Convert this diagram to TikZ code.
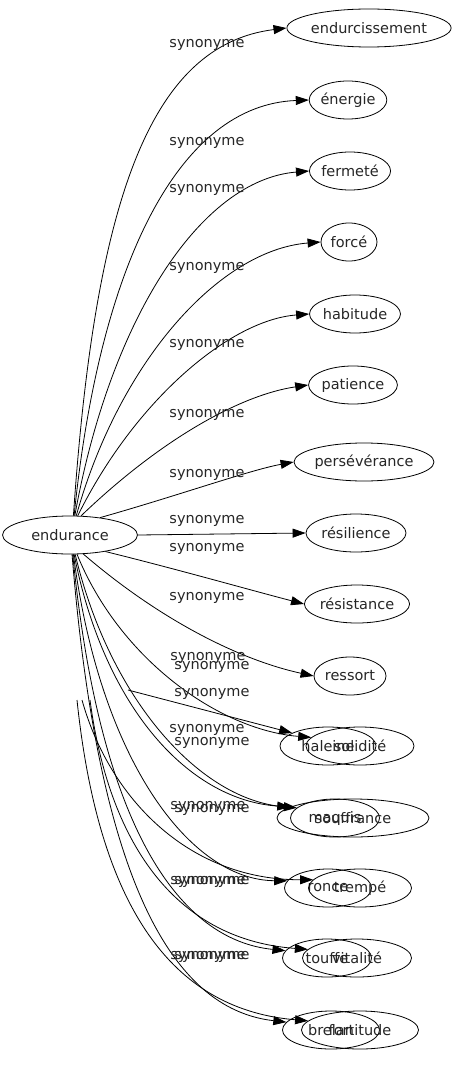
\documentclass[tikz,border=0pt]{standalone}
\usepackage{fontspec}
\setmainfont{DejaVu Sans}
\usetikzlibrary{arrows.meta,shapes.geometric}
\begin{document}
\begin{tikzpicture}[x=1pt,y=-1pt,line width=0.8pt,
 n/.style={draw,ellipse,inner sep=0pt,minimum height=38pt,font=\fontsize{14.5}{17}\selectfont,text=black!85},
 e/.style={-{Triangle[length=13pt,width=9pt]}},
 lab/.style={font=\fontsize{14.5}{17}\selectfont,text=black!85,inner sep=0pt}]
\useasboundingbox (0,0) rectangle (460,1067);
\node[n,minimum width=135pt] (endurance) at (70,535) {endurance};
\node[n,minimum width=138pt] (endurcissement) at (369,28) {endurcissement};
\node[n,minimum width=64pt] (energie) at (348,100) {énergie};
\node[n,minimum width=72pt] (fermete) at (350,171) {fermeté};
\node[n,minimum width=56pt] (force) at (349,242) {forcé};
\node[n,minimum width=84pt] (habitude) at (355,314) {habitude};
\node[n,minimum width=78pt] (patience) at (353,385) {patience};
\node[n,minimum width=120pt] (perseverance) at (364,462) {persévérance};
\node[n,minimum width=100pt] (resilience) at (356,533) {résilience};
\node[n,minimum width=104pt] (resistance) at (357,604) {résistance};
\node[n,minimum width=72pt] (ressort) at (350,676) {ressort};
\node[n,minimum width=96pt] (haleine) at (328,746) {haleine};
\node[n,minimum width=108pt] (solidite) at (360,746) {solidité};
\node[n,minimum width=89pt] (maquis) at (335,818) {maquis};
\node[n,minimum width=152pt] (souffrance) at (353,818) {souffrance};
\node[n,minimum width=87pt] (rond) at (328,888) {ronce};
\node[n,minimum width=103pt] (trempe) at (360,888) {trempé};
\node[n,minimum width=89pt] (touffe) at (327,958) {touffe};
\node[n,minimum width=109pt] (vitalite) at (357,958) {vitalité};
\node[n,minimum width=97pt] (bref) at (331,1030) {brelan};
\node[n,minimum width=117pt] (fortitude) at (360,1030) {fortitude};
\coordinate (h1) at (128,690);
\coordinate (f1) at (82,700);
\coordinate (f2) at (90,700);
\coordinate (f3) at (77,700);
\draw[e] (endurance.80) .. controls (95,200) and (150,45) .. (endurcissement.west);
\draw[e] (endurance.78) .. controls (100,260) and (180,105) .. (energie.west);
\draw[e] (endurance.76) .. controls (110,320) and (200,180) .. (fermete.west);
\draw[e] (endurance.72) .. controls (120,360) and (220,250) .. (force.west);
\draw[e] (endurance.68) .. controls (135,400) and (230,320) .. (habitude.west);
\draw[e] (endurance.60) .. controls (160,440) and (240,395) .. (patience.west);
\draw[e] (endurance.30) .. controls (180,495) and (250,470) .. (perseverance.west);
\draw[e] (endurance.east) -- (resilience.west);
\draw[e] (endurance.-25) .. controls (180,570) and (250,590) .. (resistance.west);
\draw[e] (endurance.-55) .. controls (160,620) and (240,660) .. (ressort.west);
\draw[e] (h1) -- (haleine.160);
\draw[e] (endurance.-70) .. controls (120,660) and (220,730) .. (solidite.170);
\draw[e] (endurance.-75) .. controls (110,700) and (200,800) .. (maquis.165);
\draw[e] (endurance.-78) .. controls (105,710) and (190,800) .. (souffrance.170);
\draw[e] (endurance.-80) .. controls (100,760) and (190,880) .. (rond.170);
\draw[e] (f1) .. controls (110,800) and (190,880) .. (trempe.170);
\draw[e] (endurance.-82) .. controls (100,830) and (180,940) .. (touffe.170);
\draw[e] (f2) .. controls (110,850) and (180,940) .. (vitalite.170);
\draw[e] (endurance.-84) .. controls (100,900) and (180,1010) .. (bref.170);
\draw[e] (f3) .. controls (100,920) and (180,1010) .. (fortitude.170);
\node[lab] (l1) at (207,45) {synonyme};
\node[lab] (l2) at (207,143) {synonyme};
\node[lab] (l3) at (207,190) {synonyme};
\node[lab] (l4) at (207,268) {synonyme};
\node[lab] (l5) at (207,345) {synonyme};
\node[lab] (l6) at (207,415) {synonyme};
\node[lab] (l7) at (207,475) {synonyme};
\node[lab] (l8) at (207,521) {synonyme};
\node[lab] (l9) at (207,549) {synonyme};
\node[lab] (l10) at (207,598) {synonyme};
\node[lab] (l11) at (208,658) {synonyme};
\node[lab] (l12) at (212,667) {synonyme};
\node[lab] (l13) at (212,694) {synonyme};
\node[lab] (l14) at (207,730) {synonyme};
\node[lab] (l15) at (212,743) {synonyme};
\node[lab] (l16) at (208,807) {synonyme};
\node[lab] (l17) at (212,810) {synonyme};
\node[lab] (l18) at (208,882) {synonyme};
\node[lab] (l19) at (212,882) {synonyme};
\node[lab] (l20) at (208,957) {synonyme};
\node[lab] (l21) at (212,957) {synonyme};
\end{tikzpicture}
\end{document}
